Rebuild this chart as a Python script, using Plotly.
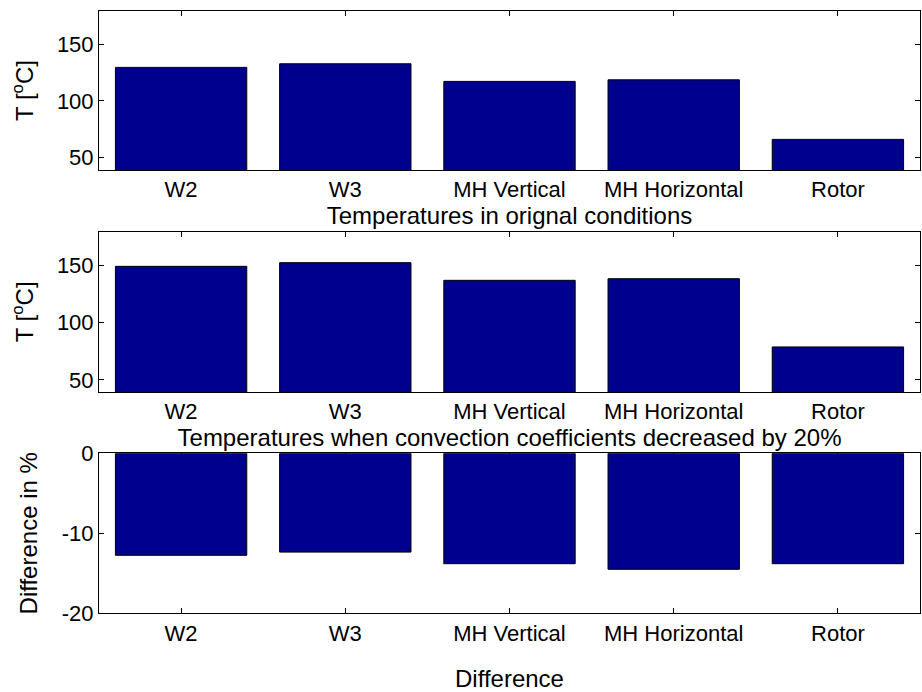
import plotly.graph_objects as go

categories = ["W2", "W3", "MH Vertical", "MH Horizontal", "Rotor"]
temp_original = [129.6, 132.8, 117.2, 118.6, 65.9]
temp_reduced = [149.1, 152.3, 136.9, 138.3, 78.8]
difference_pct = [-12.75, -12.35, -13.8, -14.5, -13.8]
temp_ticks = [50, 100, 150]
diff_ticks = [-20, -10, 0]

W, H = 922, 692
BAR = "#00008F"
FONT = "Liberation Sans, Arial, sans-serif"
TICK_FS = 22
LABEL_FS = 24

x_dom = [99 / W, 920 / W]
def ydom(top_px, bot_px):
    return [1 - bot_px / H, 1 - top_px / H]

fig = go.Figure()
series = [temp_original, temp_reduced, difference_pct]
for i, vals in enumerate(series, start=1):
    fig.add_trace(go.Bar(
        x=list(range(len(categories))), y=vals, width=0.8,
        marker=dict(color=BAR, line=dict(color="black", width=1)),
        xaxis="x" if i == 1 else f"x{i}", yaxis="y" if i == 1 else f"y{i}",
        showlegend=False, hoverinfo="skip",
    ))

common_x = dict(
    range=[-0.5, 4.5], tickmode="array", tickvals=list(range(len(categories))),
    ticktext=categories, ticks="inside", ticklen=5, tickcolor="black",
    showline=True, linecolor="black", linewidth=1, mirror="ticks",
    showgrid=False, zeroline=False, layer="below traces", automargin=False,
    tickfont=dict(family=FONT, size=TICK_FS, color="black"),
    title_font=dict(family=FONT, size=LABEL_FS, color="black"),
    domain=x_dom,
)
common_y = dict(
    ticks="inside", ticklen=5, tickcolor="black",
    showline=True, linecolor="black", linewidth=1, mirror="ticks",
    showgrid=False, zeroline=False, layer="below traces", automargin=False,
    tickfont=dict(family=FONT, size=TICK_FS, color="black"),
    title_font=dict(family=FONT, size=LABEL_FS, color="black"),
)

doms = [ydom(11, 170), ydom(231.7, 392), ydom(453.3, 613.3)]
xtitles = ["Temperatures in orignal conditions",
           "Temperatures when convection coefficients decreased by 20%",
           "Difference"]
ytitles = ["T [<sup>o</sup>C]", "T [<sup>o</sup>C]", "Difference in %"]
yranges = [[38.8, 179.5], [39.5, 179.3], [-20, 0]]
ytickvals = [temp_ticks, temp_ticks, diff_ticks]
xstand = [0, 0, 27]
ystand = [16, 16, 17]

layout = dict(
    width=W, height=H, margin=dict(l=0, r=0, t=0, b=0, autoexpand=False),
    template="none",
    paper_bgcolor="white", plot_bgcolor="white", bargap=0.2,
    font=dict(family=FONT, size=TICK_FS, color="black"),
)
for i in range(3):
    xa = dict(common_x)
    xa["anchor"] = "y" if i == 0 else f"y{i+1}"
    xa["title"] = dict(text=xtitles[i], standoff=xstand[i])
    ya = dict(common_y)
    ya["anchor"] = "x" if i == 0 else f"x{i+1}"
    ya["domain"] = doms[i]
    ya["range"] = yranges[i]
    ya["tickmode"] = "array"
    ya["tickvals"] = ytickvals[i]
    ya["ticktext"] = [str(v) for v in ytickvals[i]]
    ya["title"] = dict(text=ytitles[i], standoff=ystand[i])
    layout["xaxis" if i == 0 else f"xaxis{i+1}"] = xa
    layout["yaxis" if i == 0 else f"yaxis{i+1}"] = ya

fig.update_layout(**layout)
fig.write_html("out.html")
